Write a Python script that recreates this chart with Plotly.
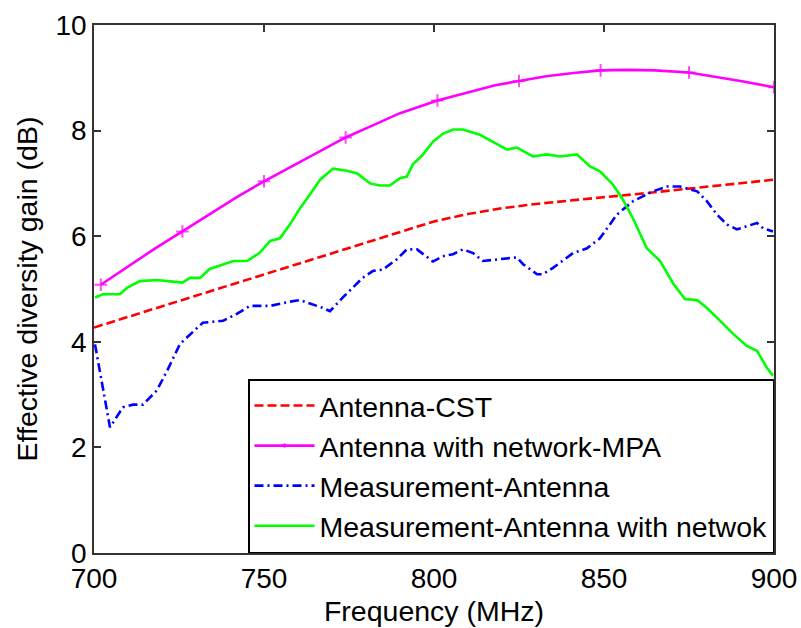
import plotly.graph_objects as go

# Antenna-CST (simulated)
cst_f = [700, 710, 720, 730, 740, 750, 760, 770, 780, 790, 800, 810, 820, 830,
         840, 850, 860, 870, 880, 890, 900]
cst_g = [4.27, 4.47, 4.67, 4.87, 5.07, 5.27, 5.47, 5.67, 5.87, 6.07, 6.28, 6.42,
         6.53, 6.61, 6.68, 6.74, 6.80, 6.87, 6.94, 7.00, 7.07]

# Antenna with network-MPA
mpa_f = [702, 710, 718, 726, 734, 742, 750, 758, 766, 774, 782, 790, 801, 810,
         818, 825, 833, 841, 849, 857, 865, 875, 883, 891, 900]
mpa_g = [5.08, 5.42, 5.77, 6.09, 6.42, 6.74, 7.04, 7.32, 7.60, 7.87, 8.10, 8.33,
         8.57, 8.72, 8.86, 8.94, 9.03, 9.09, 9.14, 9.15, 9.14, 9.10, 9.02, 8.93, 8.82]
mpa_marked = [702, 726, 750, 774, 801, 825, 849, 875, 900]

# Measurement-Antenna
meas_f = [700.3, 702.3, 703.7, 704.7, 708.5, 711.5, 714.4, 718.5, 721.5, 725.3,
          730.3, 732.0, 738.0, 742.0, 745.9, 751.8, 757.6, 760.6, 767.4, 769.4,
          773.2, 779.0, 782.0, 785.0, 789.0, 792.0, 795.0, 799.7, 802.6, 805.6,
          808.5, 811.5, 814.4, 824.4, 826.2, 830.3, 832.0, 835.0, 840.9, 845.0,
          848.8, 853.8, 858.5, 864.4, 868.5, 872.4, 877.4, 880.3, 883.2, 886.2,
          889.1, 892.0, 895.0, 896.8, 899.7]
meas_g = [3.95, 3.26, 2.76, 2.38, 2.76, 2.81, 2.81, 3.08, 3.45, 3.96,
          4.26, 4.36, 4.40, 4.53, 4.68, 4.68, 4.76, 4.79, 4.64, 4.58,
          4.84, 5.21, 5.34, 5.37, 5.56, 5.75, 5.75, 5.52, 5.62, 5.66,
          5.75, 5.68, 5.53, 5.60, 5.47, 5.28, 5.28, 5.40, 5.68, 5.77,
          5.96, 6.41, 6.66, 6.85, 6.94, 6.94, 6.85, 6.66, 6.41, 6.22,
          6.13, 6.19, 6.25, 6.15, 6.09]

# Measurement-Antenna with network
net_f = [700.3, 702.6, 707.6, 709.7, 713.5, 718.5, 723.2, 726.0, 728.2, 731.2,
         734.0, 738.0, 741.0, 745.0, 748.8, 751.8, 754.7, 757.6, 760.6, 763.5,
         766.5, 770.3, 774.4, 777.4, 781.2, 784.1, 787.0, 790.0, 792.0, 793.8,
         796.8, 799.7, 802.6, 805.6, 808.5, 813.5, 817.4, 821.5, 824.4, 829.1,
         833.2, 837.1, 842.0, 845.9, 848.8, 852.6, 855.3, 858.5, 862.6, 866.5,
         870.3, 873.8, 877.4, 880.3, 884.1, 888.0, 892.0, 895.0, 897.9, 899.7]
net_g = [4.84, 4.90, 4.90, 5.02, 5.15, 5.17, 5.14, 5.12, 5.21, 5.21,
         5.38, 5.47, 5.53, 5.53, 5.69, 5.91, 5.96, 6.22, 6.53, 6.79,
         7.07, 7.28, 7.24, 7.19, 7.00, 6.96, 6.96, 7.10, 7.13, 7.36,
         7.55, 7.79, 7.94, 8.02, 8.02, 7.92, 7.79, 7.64, 7.68, 7.51,
         7.55, 7.51, 7.55, 7.32, 7.23, 6.98, 6.72, 6.34, 5.77, 5.53,
         5.11, 4.81, 4.79, 4.64, 4.40, 4.15, 3.92, 3.83, 3.51, 3.36]

FONT = "Liberation Sans, Arial, sans-serif"
LW = 2.6

fig = go.Figure()
fig.add_trace(go.Scatter(
    x=cst_f, y=cst_g, mode="lines", name="Antenna-CST",
    line=dict(color="#ff0000", width=LW, dash="9px,4px")))
fig.add_trace(go.Scatter(
    x=mpa_f, y=mpa_g, mode="lines+markers", name="Antenna with network-MPA",
    line=dict(color="#ff00ff", width=LW),
    marker=dict(symbol="cross-thin", color="#ff00ff",
                size=[9 if f in mpa_marked else 0 for f in mpa_f],
                line=dict(color="#ff00ff", width=2))))
fig.add_trace(go.Scatter(
    x=meas_f, y=meas_g, mode="lines", name="Measurement-Antenna",
    line=dict(color="#0000ff", width=LW, dash="9px,4px,2px,4px")))
fig.add_trace(go.Scatter(
    x=net_f, y=net_g, mode="lines", name="Measurement-Antenna with netwok",
    line=dict(color="#00ff00", width=LW)))

axis_common = dict(
    showgrid=False, zeroline=False, showline=True, linecolor="#333333",
    linewidth=1.5, mirror="ticks", ticks="inside", ticklen=7,
    tickcolor="#333333", tickwidth=1.5, automargin=False,
    tickfont=dict(family=FONT, size=28, color="#000000"),
)

fig.update_layout(
    width=801, height=628,
    margin=dict(l=94, r=27, t=25, b=75),
    paper_bgcolor="#ffffff", plot_bgcolor="#ffffff",
    font=dict(family=FONT, size=28, color="#000000"),
    xaxis=dict(range=[700, 900], tickvals=[700, 750, 800, 850, 900],
               title=dict(text="Frequency (MHz)", standoff=8,
                          font=dict(family=FONT, size=28.5)),
               **axis_common),
    yaxis=dict(range=[0, 10], tickvals=[0, 2, 4, 6, 8, 10],
               title=dict(text="Effective diversity gain (dB)", standoff=10,
                          font=dict(family=FONT, size=28.5)),
               **axis_common),
    legend=dict(x=1, y=0, xanchor="right", yanchor="bottom",
                bgcolor="#ffffff", bordercolor="#000000", borderwidth=1.5,
                font=dict(family=FONT, size=28.5), tracegroupgap=0,
                itemwidth=60),
    showlegend=True,
)

fig.write_html("out.html")
